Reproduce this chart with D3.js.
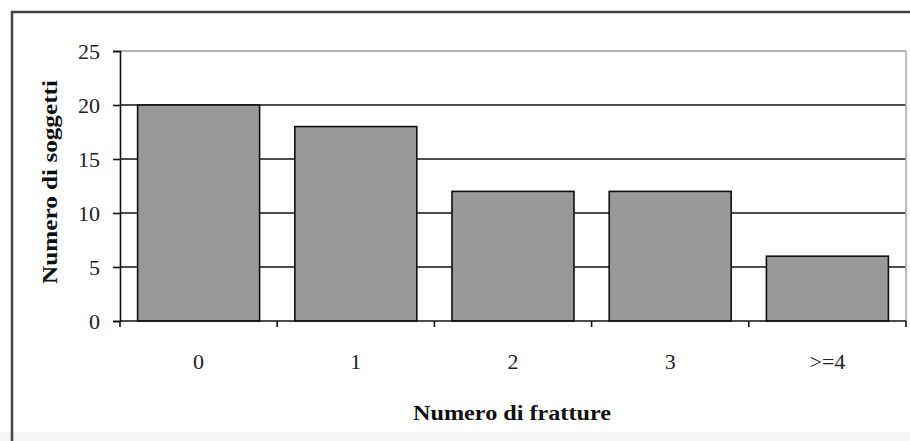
<!DOCTYPE html>
<html><head><meta charset="utf-8">
<script src="https://cdn.jsdelivr.net/npm/d3@7"></script>
<style>html,body{margin:0;padding:0;background:#fff;}svg{display:block;}</style>
</head><body>
<svg id="chart" width="910" height="441"></svg>
<script>
const categories = ["0", "1", "2", "3", ">=4"];
const values = [20, 18, 12, 12, 6];
const yTicks = [0, 5, 10, 15, 20, 25];
const xTitle = "Numero di fratture";
const yTitle = "Numero di soggetti";

const svg = d3.select("#chart");
const W = 910, H = 441;
const plot = {left: 120, right: 906, top: 51, bottom: 321};

// background & frame
svg.append("rect").attr("x", 0).attr("y", 432).attr("width", W).attr("height", H - 432).attr("fill", "#f4f4f4");
svg.append("line").attr("x1", 12).attr("x2", 12).attr("y1", 11).attr("y2", H).attr("stroke", "#444").attr("stroke-width", 2.5);
svg.append("line").attr("x1", 11).attr("x2", W).attr("y1", 12).attr("y2", 12).attr("stroke", "#444").attr("stroke-width", 2.5);

const x = d3.scaleBand().domain(categories).range([plot.left, plot.right]).paddingInner(0.224).paddingOuter(0.112);
const y = d3.scaleLinear().domain([0, 25]).range([plot.bottom, plot.top]);

// gridlines
svg.append("g").selectAll("line").data(yTicks.filter(t => t > 0)).join("line")
  .attr("x1", plot.left).attr("x2", plot.right)
  .attr("y1", d => y(d)).attr("y2", d => y(d))
  .attr("stroke", d => d === 25 ? "#999" : "#111").attr("stroke-width", 1.6);
// right plot border
svg.append("line").attr("x1", plot.right).attr("x2", plot.right).attr("y1", plot.top).attr("y2", plot.bottom)
  .attr("stroke", "#aaa").attr("stroke-width", 1.6);

// bars
svg.append("g").selectAll("rect").data(values).join("rect")
  .attr("x", (d, i) => x(categories[i]))
  .attr("y", d => y(d))
  .attr("width", x.bandwidth())
  .attr("height", d => y(0) - y(d))
  .attr("fill", "#999999").attr("stroke", "#111").attr("stroke-width", 1.6);

// y axis
const yAxis = d3.axisLeft(y).tickValues(yTicks).tickSize(7).tickPadding(13);
const gy = svg.append("g").attr("transform", `translate(${plot.left},0)`).call(yAxis);
gy.select(".domain").attr("stroke", "#111").attr("stroke-width", 1.6);
gy.selectAll(".tick line").attr("stroke", "#111").attr("stroke-width", 1.6);
gy.selectAll("text").attr("font-family", "Liberation Serif, serif").attr("font-size", 22).attr("fill", "#222");

// x axis
const xb = d3.scaleLinear().domain([0, categories.length]).range([plot.left, plot.right]);
const gx = svg.append("g").attr("transform", `translate(0,${plot.bottom})`);
gx.append("line").attr("x1", plot.left).attr("x2", plot.right).attr("y1", 0).attr("y2", 0).attr("stroke", "#111").attr("stroke-width", 1.6);
gx.selectAll("line.tk").data(d3.range(categories.length + 1)).join("line").attr("class", "tk")
  .attr("x1", d => xb(d)).attr("x2", d => xb(d)).attr("y1", 0).attr("y2", 6)
  .attr("stroke", "#111").attr("stroke-width", 1.6);
gx.selectAll("text").data(categories).join("text")
  .attr("x", d => x(d) + x.bandwidth() / 2).attr("y", 48)
  .attr("text-anchor", "middle")
  .attr("font-family", "Liberation Serif, serif").attr("font-size", 22).attr("fill", "#222")
  .text(d => d);

// titles
svg.append("text").attr("transform", `translate(${(plot.left + plot.right) / 2 - 1},420) scale(1.1,1)`)
  .attr("text-anchor", "middle").attr("font-family", "Liberation Serif, serif").attr("font-weight", "bold")
  .attr("font-size", 22).attr("fill", "#111").text(xTitle);
svg.append("text").attr("transform", `translate(57,182) rotate(-90) scale(1.2,1)`)
  .attr("text-anchor", "middle").attr("font-family", "Liberation Serif, serif").attr("font-weight", "bold")
  .attr("font-size", 21).attr("fill", "#111").text(yTitle);
</script>
</body></html>
